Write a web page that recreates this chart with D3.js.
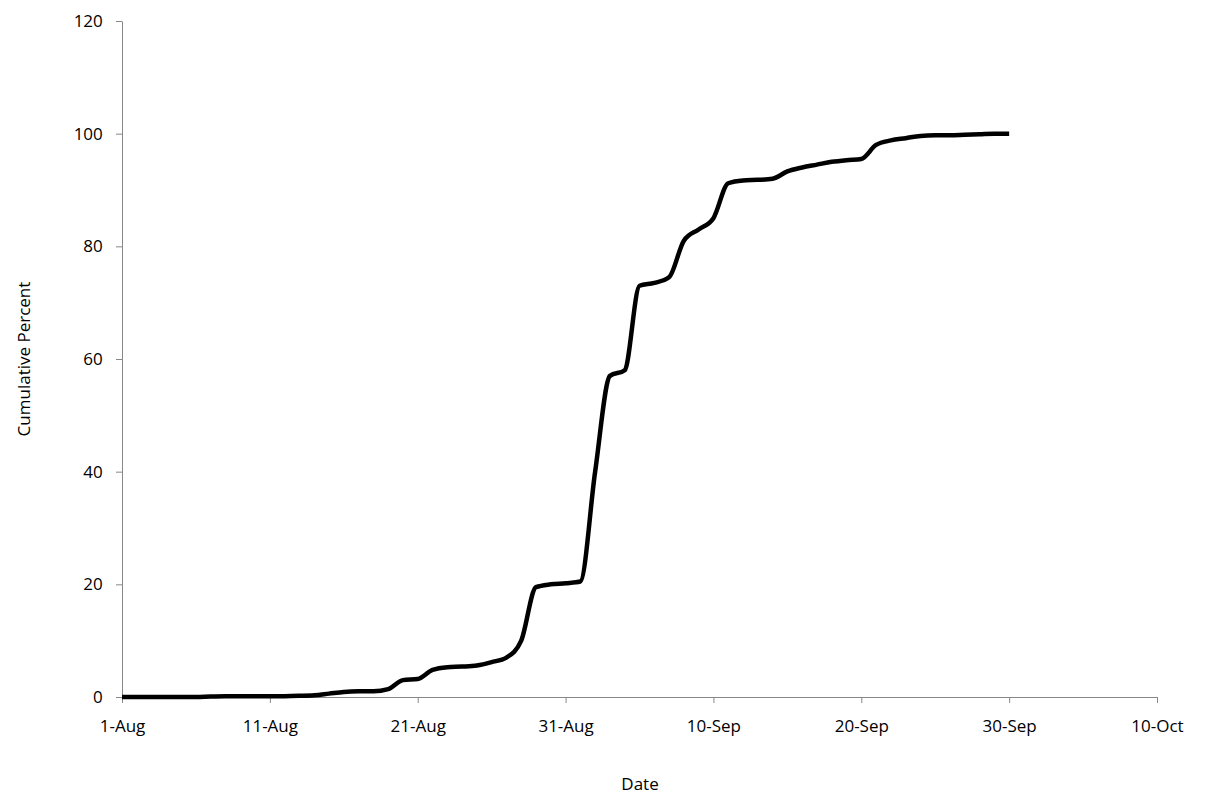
<!DOCTYPE html>
<html><head><meta charset="utf-8">
<script src="https://cdn.jsdelivr.net/npm/d3@7"></script>
<style>body{margin:0;background:#fff}text{font-family:"Open Sans",sans-serif}</style>
</head><body>
<script>
// cumulative percent by day, starting 1-Aug
var startDate = new Date(2000, 7, 1);
var values = [0,0,0,0,0,0,0.1,0.15,0.15,0.15,0.15,0.15,0.2,0.3,0.6,0.9,1,1,1.4,3,3.2,4.8,5.3,5.4,5.6,6.2,7,10,19.5,20,20.2,20.5,40,57,58,73,73.5,74.5,81,83,85,91.2,91.7,91.8,92,93.3,94,94.5,95,95.3,95.5,98,98.8,99.2,99.6,99.7,99.7,99.8,99.9,100,100];
var yTicks = [0,20,40,60,80,100,120];
var xTickDays = [0,10,20,30,40,50,60,70];

var W = 1205, H = 804;
var svg = d3.select('body').append('svg').attr('width', W).attr('height', H);

var x = d3.scaleTime()
  .domain([startDate, d3.timeDay.offset(startDate, 70)])
  .range([122, 1157]);
var y = d3.scaleLinear().domain([0, 120]).range([697, 21]);

var fmt = d3.timeFormat('%-d-%b');
svg.append('g').attr('transform', 'translate(0,697)')
  .call(d3.axisBottom(x).tickValues(xTickDays.map(function(d){return d3.timeDay.offset(startDate, d);}))
    .tickFormat(fmt).tickSize(6).tickSizeOuter(0))
  .call(function(g){
    g.selectAll('text').attr('font-size', 17).attr('dy', '1.5em').attr('fill', '#000');
    g.selectAll('line,path').attr('stroke', '#888');
  });
svg.append('g').attr('transform', 'translate(122,0)')
  .call(d3.axisLeft(y).tickValues(yTicks).tickSize(6).tickSizeOuter(0))
  .call(function(g){
    g.selectAll('text').attr('font-size', 17).attr('dx', '-0.6em').attr('fill', '#000');
    g.selectAll('line,path').attr('stroke', '#888');
  });

svg.append('text').attr('x', 640).attr('y', 790).attr('text-anchor', 'middle')
  .attr('font-size', 17).text('Date');
svg.append('text').attr('transform', 'translate(30,359) rotate(-90)').attr('text-anchor', 'middle')
  .attr('font-size', 17).text('Cumulative Percent');

var line = d3.line()
  .x(function(d, i){ return x(d3.timeDay.offset(startDate, i)); })
  .y(function(d){ return y(d); })
  .curve(d3.curveMonotoneX);

svg.append('path').datum(values)
  .attr('d', line)
  .attr('fill', 'none')
  .attr('stroke', '#000')
  .attr('stroke-width', 4.5);
</script>
</body></html>
